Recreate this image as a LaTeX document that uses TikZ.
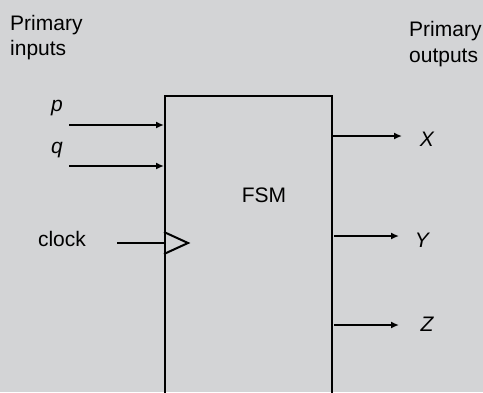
\documentclass[tikz,border=0pt]{standalone}
\usepackage{fontspec}
\setmainfont{Liberation Sans}
\usetikzlibrary{arrows.meta}
\definecolor{bg}{RGB}{211,212,214}
\begin{document}
\begin{tikzpicture}[x=1pt,y=-1pt,
  lbl/.style={font=\fontsize{21}{25}\selectfont, inner sep=0pt},
  var/.style={font=\fontsize{21}{25}\selectfont\itshape, inner sep=0pt},
  sig/.style={line width=2.6pt, -{Latex[length=8pt,width=7pt]}},
  clk/.style={line width=2pt}]
\useasboundingbox (0,0) rectangle (483,392);
\clip (0,0) rectangle (483,392);
\fill[bg] (0,0) rectangle (483,392);
% FSM box
\node[draw, line width=2.3pt, minimum width=167pt, minimum height=330pt, inner sep=0pt, anchor=north west] (fsm) at (164,95) {};
\node[lbl] (fsmlbl) at (264,195) {FSM};
% headings
\node[lbl, anchor=base west] (pin) at (10,30) {Primary};
\node[lbl, anchor=base west] (pin2) at (10,55) {inputs};
\node[lbl, anchor=base west] (pout) at (409,36) {Primary};
\node[lbl, anchor=base west] (pout2) at (409,62) {outputs};
% inputs
\node[var] (p) at (57,108) {p};
\node[var] (q) at (57,150) {q};
\node[lbl] (clock) at (62,239) {clock};
\coordinate (ps) at (69,125);
\coordinate (qs) at (69,166);
\coordinate (cs) at (117,243);
\draw[sig] (ps) -- (ps -| fsm.west);
\draw[sig] (qs) -- (qs -| fsm.west);
\draw[clk] (cs) -- (cs -| fsm.west);
\draw[line width=2pt, line join=miter] (164,232) -- (188,243) -- (164,254);
% outputs
\node[var] (X) at (427,139) {X};
\node[var] (Y) at (422,240) {Y};
\node[var] (Z) at (427,324) {Z};
\coordinate (xs) at (331,136);
\coordinate (ys) at (334,236);
\coordinate (zs) at (334,325);
\coordinate (xe) at (402,136);
\coordinate (ye) at (399,236);
\coordinate (ze) at (399,325);
\draw[sig] (xs) -- (xe);
\draw[sig] (ys) -- (ye);
\draw[sig] (zs) -- (ze);
\end{tikzpicture}
\end{document}
